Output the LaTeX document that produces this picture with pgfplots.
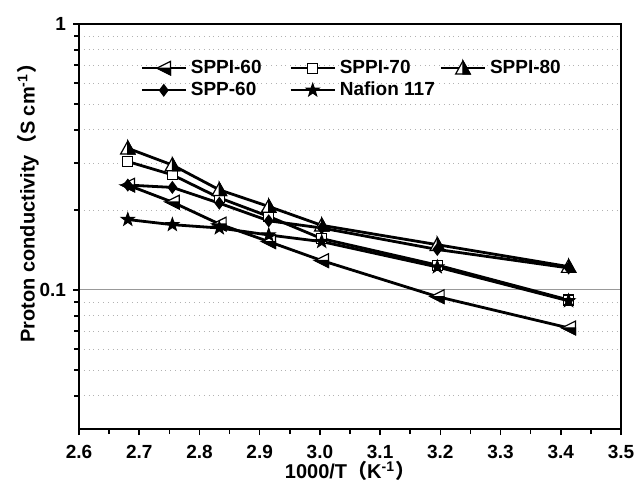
\documentclass[border=0pt]{standalone}
\usepackage{fontspec}
\setmainfont{Liberation Sans}
\newfontfamily\cjk{Noto Sans CJK SC}
\usepackage{pgfplots}
\pgfplotsset{compat=1.18}

% half-filled markers (Origin style)
\pgfdeclareplotmark{halfltri}{%
  \pgfpathmoveto{\pgfqpoint{-\pgfplotmarksize}{0pt}}%
  \pgfpathlineto{\pgfqpoint{\pgfplotmarksize}{\pgfplotmarksize}}%
  \pgfpathlineto{\pgfqpoint{\pgfplotmarksize}{-\pgfplotmarksize}}%
  \pgfpathclose
  \pgfsetfillcolor{white}\pgfusepathqfillstroke
  \pgfpathmoveto{\pgfqpoint{-\pgfplotmarksize}{0pt}}%
  \pgfpathlineto{\pgfqpoint{\pgfplotmarksize}{0pt}}%
  \pgfpathlineto{\pgfqpoint{\pgfplotmarksize}{-\pgfplotmarksize}}%
  \pgfpathclose
  \pgfsetfillcolor{black}\pgfusepathqfillstroke
}
\pgfdeclareplotmark{halfutri}{%
  \pgfpathmoveto{\pgfqpoint{0pt}{\pgfplotmarksize}}%
  \pgfpathlineto{\pgfqpoint{-\pgfplotmarksize}{-0.8\pgfplotmarksize}}%
  \pgfpathlineto{\pgfqpoint{\pgfplotmarksize}{-0.8\pgfplotmarksize}}%
  \pgfpathclose
  \pgfsetfillcolor{white}\pgfusepathqfillstroke
  \pgfpathmoveto{\pgfqpoint{0pt}{\pgfplotmarksize}}%
  \pgfpathlineto{\pgfqpoint{0pt}{-0.8\pgfplotmarksize}}%
  \pgfpathlineto{\pgfqpoint{\pgfplotmarksize}{-0.8\pgfplotmarksize}}%
  \pgfpathclose
  \pgfsetfillcolor{black}\pgfusepathqfillstroke
}
\pgfdeclareplotmark{fstar}{%
  \pgfpathmoveto{\pgfqpointpolar{90}{\pgfplotmarksize}}%
  \pgfpathlineto{\pgfqpointpolar{126}{0.4\pgfplotmarksize}}%
  \pgfpathlineto{\pgfqpointpolar{162}{\pgfplotmarksize}}%
  \pgfpathlineto{\pgfqpointpolar{198}{0.4\pgfplotmarksize}}%
  \pgfpathlineto{\pgfqpointpolar{234}{\pgfplotmarksize}}%
  \pgfpathlineto{\pgfqpointpolar{270}{0.4\pgfplotmarksize}}%
  \pgfpathlineto{\pgfqpointpolar{306}{\pgfplotmarksize}}%
  \pgfpathlineto{\pgfqpointpolar{342}{0.4\pgfplotmarksize}}%
  \pgfpathlineto{\pgfqpointpolar{18}{\pgfplotmarksize}}%
  \pgfpathlineto{\pgfqpointpolar{54}{0.4\pgfplotmarksize}}%
  \pgfpathclose
  \pgfsetfillcolor{black}\pgfusepathqfillstroke
}

\begin{document}
\begin{tikzpicture}
\begin{axis}[
  scale only axis,
  width=271pt,
  height=202.5pt,
  xmin=2.6, xmax=3.5,
  ymode=log,
  ymin=0.03, ymax=1,
  xtick={2.6,2.7,2.8,2.9,3.0,3.1,3.2,3.3,3.4,3.5},
  minor x tick num=1,
  ytick={0.1,1},
  yticklabels={0.1,1},
  minor ytick={0.04,0.05,0.06,0.07,0.08,0.09,0.2,0.3,0.4,0.5,0.6,0.7,0.8,0.9},
  xticklabel style={/pgf/number format/.cd,fixed,fixed zerofill,precision=1},
  xticklabel shift=1.5pt,
  /pgf/number format/assume math mode=true,
  tick label style={font=\fontsize{9.5}{11}\selectfont\bfseries},
  xtick pos=left, ytick pos=left,
  tick align=outside,
  major tick length=3pt,
  minor tick length=2.5pt,
  axis line style={line width=1pt},
  every tick/.style={black, line width=0.8pt},
  ymajorgrids, yminorgrids,
  major grid style={gray!80, line width=0.5pt},
  minor grid style={gray!60, dotted, line width=0.4pt},
  xlabel={1000/T{\cjk （}K\textsuperscript{-1}{\cjk ）}},
  ylabel={Proton conductivity{\cjk （}S cm\textsuperscript{-1}{\cjk ）}},
  label style={font=\fontsize{10}{12}\selectfont\bfseries},
  xlabel style={at={(rel axis cs:0.5,-0.123)}, anchor=base},
  ylabel style={at={(rel axis cs:-0.094,0.57)}, anchor=center},
  legend columns=3,
  legend cell align=left,
  legend style={draw=none, fill=none, at={(0.113,0.922)}, anchor=north west,
    font=\fontsize{9.5}{11}\selectfont\bfseries, inner sep=0pt,
    row sep=-1.2pt,
    /tikz/every even column/.append style={column sep=12pt}},
  legend image code/.code={\draw[line width=1.1pt, mark repeat=2,mark phase=2] plot coordinates {(0pt,0pt) (11pt,0pt) (22pt,0pt)};},
  every axis plot/.append style={black, line width=1.4pt},
]
\coordinate (bl) at (rel axis cs:-0.1458,-0.1284);
\coordinate (tr) at (rel axis cs:1.0332,1.0593);

\addplot[mark=halfltri, mark size=3.4pt, mark options={line width=0.6pt}] coordinates {
  (2.681,0.248) (2.755,0.214) (2.833,0.177) (2.915,0.152) (3.003,0.129) (3.195,0.0944) (3.413,0.072)
};
\addlegendentry{SPPI-60}
\addplot[mark=square*, mark size=2.5pt, mark options={fill=white, line width=0.6pt}] coordinates {
  (2.681,0.304) (2.755,0.271) (2.833,0.222) (2.915,0.189) (3.003,0.156) (3.195,0.124) (3.413,0.0917)
};
\addlegendentry{\makebox[36pt][l]{SPPI-70}}
\addplot[mark=halfutri, mark size=3.6pt, mark options={line width=0.6pt}] coordinates {
  (2.681,0.341) (2.755,0.295) (2.833,0.238) (2.915,0.206) (3.003,0.175) (3.195,0.148) (3.413,0.1224)
};
\addlegendentry{SPPI-80}
\addplot[mark=diamond*, mark size=2.8pt, mark options={line width=0.6pt}] coordinates {
  (2.681,0.248) (2.755,0.243) (2.833,0.212) (2.915,0.182) (3.003,0.171) (3.195,0.142) (3.413,0.121)
};
\addlegendentry{SPP-60}
\addplot[mark=fstar, mark size=3.4pt, mark options={line width=0.5pt}] coordinates {
  (2.681,0.184) (2.755,0.176) (2.833,0.171) (2.915,0.161) (3.003,0.152) (3.195,0.122) (3.413,0.091)
};
\addlegendentry{\makebox[36pt][l]{Nafion 117}}
\end{axis}
\pgfresetboundingbox
\path (bl) rectangle (tr);
\end{tikzpicture}
\end{document}
